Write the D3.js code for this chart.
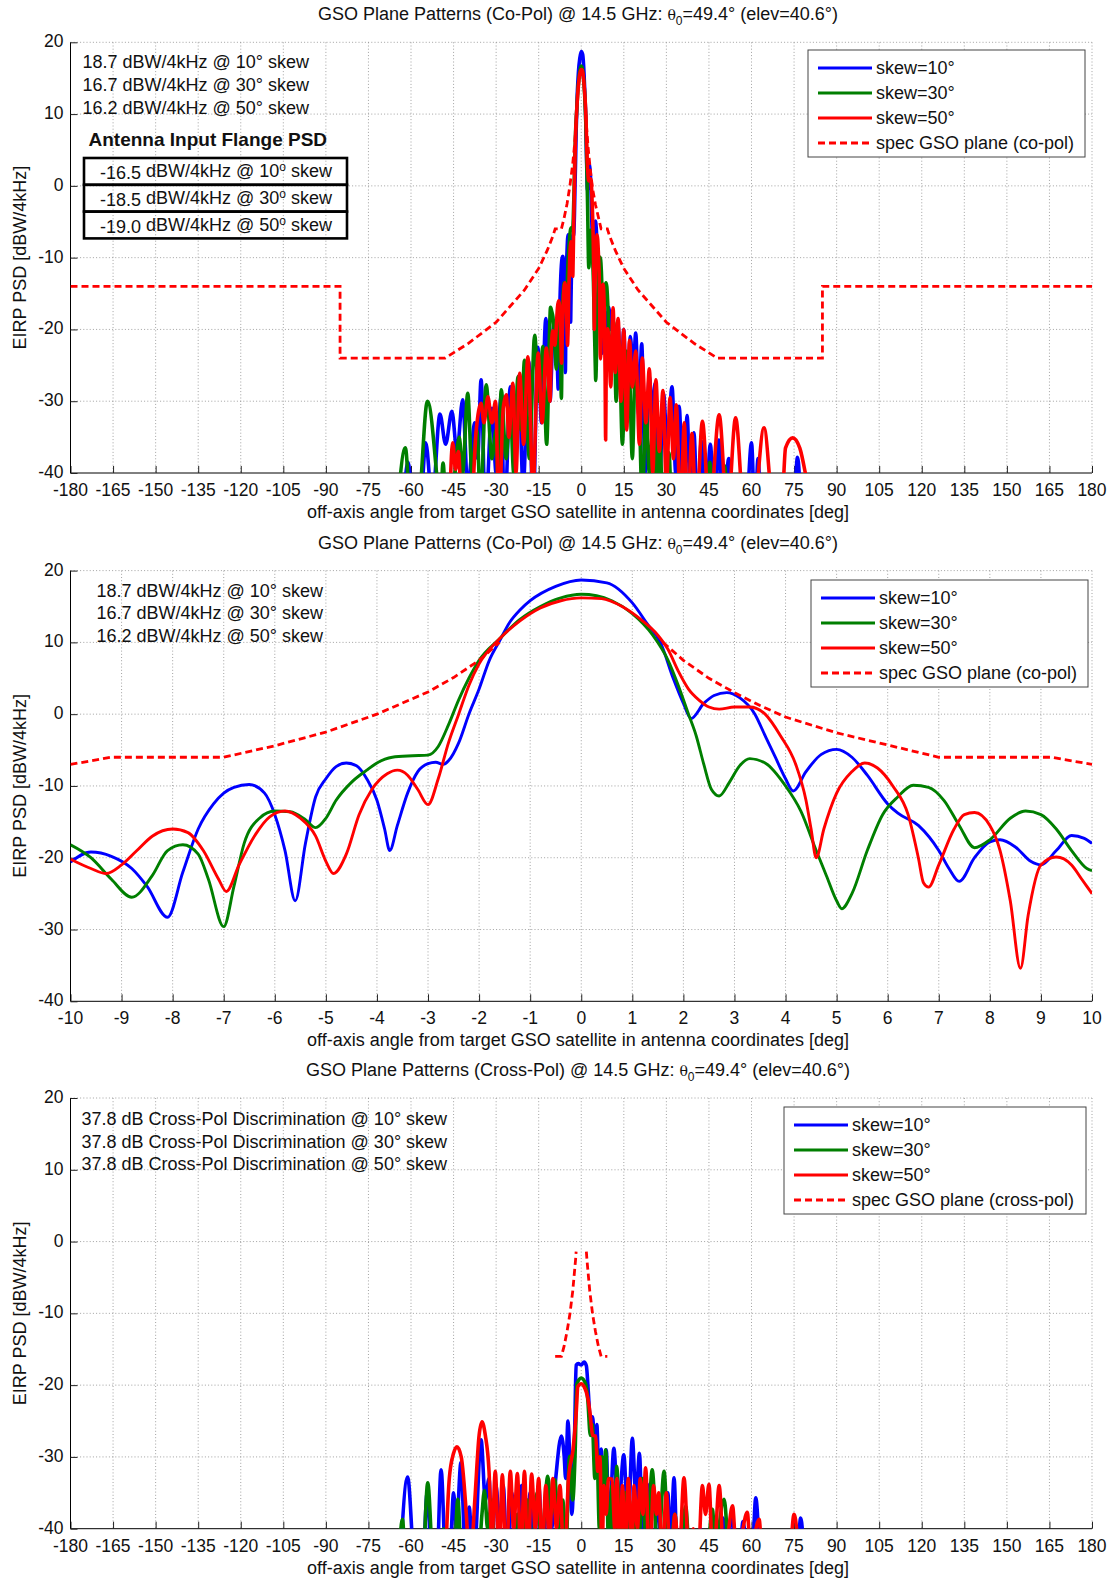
<!DOCTYPE html>
<html>
<head>
<meta charset="utf-8" />
<title>GSO plane patterns</title>
<script src="https://d3js.org/d3.v7.min.js"></script>
<style>
body { margin: 0; background: #fff; }
svg text { font-family: "Liberation Sans", Arial, sans-serif; fill: #111; }
.grid line { stroke: #8a8a8a; stroke-width: 0.8; stroke-dasharray: 1,2.2; }
</style>
</head>
<body>
<div id="chart"></div>
<script>

// ---- data: [angle deg, dBW/4kHz] ----

const wideTicks = d3.range(-180, 181, 15);
const nearTicks = d3.range(-10, 11, 1);
const yTicks = [-40, -30, -20, -10, 0, 10, 20];

const skewLabels = ["skew=10\u00b0", "skew=30\u00b0", "skew=50\u00b0"];
const copolNotes = ["18.7 dBW/4kHz @ 10\u00b0 skew", "16.7 dBW/4kHz @ 30\u00b0 skew", "16.2 dBW/4kHz @ 50\u00b0 skew"];
const xpolNotes = ["37.8 dB Cross-Pol Discrimination @ 10\u00b0 skew", "37.8 dB Cross-Pol Discrimination @ 30\u00b0 skew", "37.8 dB Cross-Pol Discrimination @ 50\u00b0 skew"];
const flangeValues = ["-16.5", "-18.5", "-19.0"];
const flangeSkews = ["10", "30", "50"];

// near-in co-pol patterns (-10..10 deg)
const near10 = [[-10,-20.6],[-9.6,-19.2],[-9.2,-19.8],[-8.8,-21.5],[-8.5,-24],[-8.1,-28.3],[-7.8,-22],[-7.5,-16],[-7.2,-12.5],[-7,-11],[-6.8,-10.2],[-6.5,-9.8],[-6.2,-11],[-6,-14],[-5.8,-19],[-5.6,-26],[-5.4,-18],[-5.2,-11.5],[-5,-9],[-4.8,-7.3],[-4.6,-6.8],[-4.4,-7.2],[-4.2,-9],[-4,-12],[-3.85,-16],[-3.75,-19],[-3.6,-15.5],[-3.4,-11],[-3.2,-8],[-3,-6.9],[-2.85,-6.7],[-2.7,-7],[-2.6,-6.5],[-2.4,-4],[-2.2,0],[-2,3.5],[-1.8,7.5],[-1.6,10.2],[-1.4,12.8],[-1.2,14.5],[-1,15.8],[-0.5,17.8],[0,18.7],[0.5,18.3],[1,15.5],[1.3,12.5],[1.55,10],[1.8,5],[2,1.5],[2.15,-0.6],[2.4,1.5],[2.6,2.6],[2.85,3],[3.1,2.3],[3.4,0],[3.6,-3],[3.8,-6],[4,-9],[4.15,-10.7],[4.4,-8],[4.7,-5.6],[5,-4.9],[5.3,-6],[5.6,-8.5],[6,-12.5],[6.2,-13.8],[6.6,-15.5],[7,-19],[7.2,-21.5],[7.4,-23.3],[7.7,-20],[8,-17.8],[8.2,-17.5],[8.5,-18.5],[8.8,-20.5],[9,-21],[9.3,-19],[9.6,-16.9],[9.85,-17.3],[10,-18]];
const near30 = [[-10,-18.2],[-9.6,-20],[-9.2,-23],[-8.8,-25.5],[-8.4,-22.5],[-8.1,-19],[-7.8,-18.2],[-7.5,-19.5],[-7.3,-23],[-7,-29.6],[-6.8,-24],[-6.6,-18],[-6.3,-14.5],[-6,-13.5],[-5.7,-13.6],[-5.4,-14.7],[-5.2,-15.8],[-5,-14.5],[-4.8,-12],[-4.5,-9.5],[-4.2,-7.8],[-4,-6.8],[-3.7,-6],[-3.3,-5.8],[-3,-5.7],[-2.8,-4.5],[-2.6,-1.5],[-2.4,2],[-2.2,5],[-2,7.5],[-1.6,10.5],[-1.2,13.2],[-0.8,15],[-0.4,16.2],[0,16.7],[0.3,16.5],[0.6,15.8],[1,14],[1.4,11],[1.7,7.5],[1.9,4],[2.1,0],[2.25,-3],[2.4,-7],[2.55,-10.5],[2.7,-11.4],[2.9,-9.5],[3.1,-7.2],[3.3,-6.2],[3.6,-6.8],[4,-10],[4.3,-13.5],[4.6,-19],[4.8,-22.5],[5,-26],[5.1,-27.1],[5.3,-25],[5.6,-19],[5.9,-14],[6.2,-11.5],[6.5,-9.9],[6.8,-10.2],[7.1,-12],[7.4,-15.5],[7.7,-18.6],[8,-17.5],[8.4,-14.5],[8.7,-13.5],[9,-14],[9.3,-16],[9.6,-19],[9.9,-21.5],[10,-21.8]];
const near50 = [[-10,-20.2],[-9.6,-21.5],[-9.3,-22.2],[-9,-21],[-8.7,-19],[-8.4,-17],[-8,-16],[-7.7,-16.5],[-7.4,-19],[-7.1,-23],[-6.95,-24.7],[-6.7,-21],[-6.4,-17],[-6.1,-14.3],[-5.8,-13.5],[-5.5,-14.5],[-5.2,-17],[-5,-20.5],[-4.85,-22.2],[-4.6,-19.5],[-4.35,-14],[-4.1,-10.5],[-3.8,-8.3],[-3.6,-7.8],[-3.4,-8.5],[-3.2,-10.5],[-3,-12.6],[-2.8,-9],[-2.6,-4],[-2.4,0],[-2.2,4],[-2,7],[-1.6,10.5],[-1.2,13],[-0.8,14.8],[-0.4,15.8],[0,16.2],[0.4,16.1],[0.8,15],[1.2,13],[1.5,11],[1.7,9],[1.9,6],[2.1,3.5],[2.3,2],[2.5,1],[2.7,0.7],[3,1],[3.3,1],[3.6,0],[3.9,-3],[4.2,-7],[4.4,-12],[4.5,-16],[4.6,-20],[4.75,-16],[5,-11],[5.3,-8],[5.55,-6.8],[5.8,-7.5],[6.1,-10],[6.4,-14],[6.6,-20],[6.7,-23.5],[6.8,-24.1],[7,-21],[7.3,-16],[7.5,-14],[7.7,-13.7],[8,-15.5],[8.2,-19],[8.4,-26],[8.6,-35.4],[8.75,-28],[9,-21],[9.3,-19.9],[9.6,-21],[9.8,-23],[10,-25]];

// far-out sidelobes of the co-pol cuts (outside +-10 deg)
const far10L = [[-63,-46],[-61,-38.5],[-59,-46],[-56.5,-44],[-54.8,-35.8],[-52.5,-44],[-49.8,-31.8],[-47.8,-36],[-45.6,-31.4],[-43.8,-37],[-41.8,-29.8],[-40,-42],[-37.5,-33],[-36.5,-38],[-35.3,-27],[-33.8,-46],[-31.5,-31],[-30,-40],[-28.3,-29.5],[-27,-46],[-25,-28],[-23.5,-37],[-22,-26.5],[-20.5,-42],[-18.5,-24.5],[-17,-46],[-15.3,-22.5],[-14,-33],[-12.5,-18.5],[-11,-30]];
const far10R = [[10.5,-20],[11,-18],[12,-24],[13,-19.5],[14,-28],[15,-20],[16,-33],[17.3,-21],[18.3,-26],[19.2,-20.5],[20.3,-32],[21.3,-22],[22.5,-40],[24,-26.5],[25,-32],[26,-27.5],[27.3,-45],[29,-29],[30.3,-36],[32,-28],[33.3,-40],[34.5,-30.7],[36,-45],[37.3,-32],[38.5,-44],[39.7,-34.4],[41,-46],[42.3,-35.5],[43.8,-46],[45.5,-36],[47,-46],[48.5,-35.4],[50,-46],[52,-38],[53.5,-46],[58,-46],[60,-35.8],[61.2,-46],[62.3,-38],[63.5,-46],[74.8,-46],[76.2,-37.8],[77.5,-46]];
const far30L = [[-65,-46],[-62,-36.5],[-60,-46],[-57.5,-45],[-54.2,-30],[-51,-40],[-49.8,-46],[-48.7,-38.6],[-47.5,-46],[-45.5,-44],[-43,-35],[-41.8,-40],[-40,-28.9],[-38.5,-40],[-36.8,-34],[-35.5,-44],[-33.5,-27.7],[-31.5,-38],[-30,-34],[-29.3,-42],[-28.2,-28.4],[-26.5,-38],[-25,-31],[-23.8,-40],[-22.3,-26.6],[-21.2,-34],[-20,-24.3],[-18.3,-38],[-16.4,-20.8],[-15,-30],[-13.5,-22.4],[-12.2,-36],[-10.8,-16.9],[-10.4,-17.5]];
const far30R = [[10.5,-24],[11.5,-19],[12.3,-30],[13.3,-21.5],[14.5,-36],[15.7,-23],[16.8,-23.8],[18,-38],[19,-26],[20.3,-29.8],[21.5,-44],[22.8,-31],[24,-40],[25.5,-32],[26.5,-44],[27.5,-34.4],[29,-46],[30.9,-37.2],[32,-46],[44,-46],[45.3,-38.5],[46.5,-46],[49.5,-46],[50.5,-39],[51.5,-46]];
const far50L = [[-46.5,-46],[-45.3,-35.8],[-44.3,-39.5],[-43.3,-37],[-42,-46],[-39,-46],[-37,-34],[-35.3,-30.3],[-34.3,-33],[-32.9,-29.4],[-31.5,-33],[-30.2,-30],[-29,-46],[-27.5,-31],[-26.4,-29.1],[-25.5,-35],[-24.1,-27.5],[-23,-40],[-21.7,-26.1],[-20.3,-36],[-18.8,-23.8],[-17,-42],[-15.2,-23.3],[-13.8,-33],[-12.3,-22.6],[-11,-30],[-10.5,-22]];
const far50R = [[10.4,-28],[11.2,-17],[12,-26],[13,-18.5],[14,-30],[15,-20],[16,-34],[17,-21.5],[18,-28],[19.2,-23],[20.5,-36],[21.5,-24],[22.8,-33],[24,-25.5],[25.2,-40],[26.3,-27],[27.5,-37],[28.8,-28.5],[30,-42],[31.3,-29.5],[32.5,-38],[33.5,-30.5],[35,-46],[36.3,-33],[37.5,-46],[39,-34.5],[40.5,-46],[42.7,-32.8],[45.2,-46],[48.6,-31.9],[51.5,-46],[54.4,-32.3],[57.5,-46],[60.5,-46],[64.4,-33.7],[68,-46],[70.5,-46],[72,-36.5],[74.5,-35.1],[77,-36.5],[80,-42],[82.5,-46]];

// co-pol spec mask (null = gap inside the main beam)
const specNear = [[-10,-7],[-9.2,-6],[-7,-6],[-6,-4.4],[-5,-2.5],[-4,0],[-3,3.1],[-2.5,5.1],[-2,7.5],[-1.6,10],[0,null],[1.6,10],[2,7.5],[2.5,5],[3,3],[3.5,1.2],[4,-0.4],[5,-2.6],[6,-4.3],[7,-6],[9.2,-6],[10,-7]];
const specFarL = [[-180,-14],[-85,-14],[-85,-24],[-48,-24],[-40,-22],[-30,-19],[-20,-14.5],[-15,-11.5],[-12,-9]];
const specFarR = [[12,-9],[15,-11.5],[20,-14.5],[30,-19],[40,-22],[48,-24],[85,-24],[85,-14],[180,-14]];

// cross-pol cuts
const xpol10 = [[-64,-46],[-61.2,-32.8],[-58.5,-46],[-56,-46],[-54.3,-35],[-52.5,-46],[-51,-46],[-49.4,-31.8],[-47.6,-46],[-46,-42],[-45,-35],[-44,-40],[-42.4,-30.8],[-41,-42],[-39.5,-37],[-38,-46],[-35.3,-27.6],[-33.8,-36],[-32.5,-33],[-31.5,-42],[-30,-34],[-28.8,-40],[-27.5,-34],[-26,-46],[-24.5,-35],[-23,-44],[-21,-34],[-19.5,-44],[-18,-35],[-16.5,-42],[-15,-34],[-13.5,-44],[-12,-35],[-10.5,-40],[-9,-33],[-7,-27.1],[-6,-30],[-5.5,-33],[-4.7,-25],[-3.3,-38],[-2.3,-26],[-1.8,-17.2],[-1,-17],[0,-17.2],[1,-16.8],[1.8,-17.3],[2.5,-21],[3.2,-25],[4,-24.4],[4.8,-29],[5.5,-25.5],[6.2,-33],[7,-28.9],[8,-36],[8.8,-29],[9.8,-40],[11.5,-28.8],[13,-38],[15,-29.7],[16.5,-40],[18,-27.4],[19.3,-36],[20.5,-29.5],[21.8,-44],[23.3,-33.8],[25,-46],[27,-36],[28.5,-46],[30.5,-35],[31.5,-42],[32.7,-32.9],[34,-46],[36,-38],[37.5,-46],[40,-46],[42,-40],[44,-46],[48,-46],[50,-38.5],[51.5,-44],[53,-38],[55.5,-46],[57,-39],[59,-46],[60,-46],[61.5,-35.7],[63.5,-46],[76,-46],[77.3,-38.5],[78.8,-46]];
const xpol30 = [[-64.5,-46],[-63,-38.7],[-61.8,-46],[-56,-46],[-54.1,-33.6],[-52,-46],[-50,-46],[-48.5,-40],[-47,-46],[-45,-46],[-43.5,-35.9],[-42,-46],[-40,-46],[-38,-40],[-36.5,-46],[-35,-38],[-34.1,-34.7],[-33,-40],[-31.5,-36],[-30.5,-46],[-28,-46],[-26,-40],[-24.5,-46],[-22.5,-38],[-21,-46],[-19,-36],[-17.5,-44],[-15.5,-35],[-14,-42],[-11.8,-32.7],[-10.5,-38],[-9.3,-33.2],[-8,-40],[-6.5,-36],[-5.5,-44],[-4.1,-29.9],[-3,-36],[-2.2,-30],[-1.5,-19.8],[0,-19],[1.5,-19.8],[2.3,-22],[3.2,-27],[3.9,-25.5],[4.8,-33],[5.5,-29],[6.4,-40],[7.3,-30],[8,-36],[8.6,-29],[9.8,-44],[10.8,-34],[11.7,-44],[12.5,-31.3],[14,-46],[15.5,-35],[17,-46],[18.5,-36],[20,-46],[21.5,-33],[23,-44],[25,-31.8],[27,-44],[29.2,-32],[31,-46],[33,-38],[34.5,-46],[36.8,-36.9],[38.5,-46],[44,-46],[46.2,-37.3],[47.5,-44],[48.5,-40],[50.3,-35.9],[52,-46]];
const xpol50 = [[-48,-46],[-46.5,-33],[-45,-29.5],[-43.8,-28.6],[-42.3,-30],[-40.5,-38],[-39.3,-46],[-37.5,-36],[-36,-27],[-35,-25.1],[-33.8,-27],[-32.5,-32],[-31.5,-42],[-30.3,-32],[-29,-44],[-27.8,-32.5],[-26.5,-46],[-25,-32],[-23.8,-40],[-22.5,-32.3],[-21.3,-44],[-20,-32],[-18.8,-46],[-17.5,-32.4],[-16.2,-40],[-15,-33],[-13.8,-44],[-12.5,-34],[-11.2,-42],[-10,-33],[-8.7,-40],[-7.5,-34],[-6,-46],[-4.5,-33],[-2.9,-29],[-1.8,-24],[-1.2,-20.2],[0,-19.8],[1,-20.2],[1.8,-21],[2.4,-22],[3.1,-23.9],[4,-27],[5.1,-27.1],[5.8,-32],[6.6,-30],[7.3,-44],[8,-34],[8.8,-38],[9.6,-33],[10.9,-33.1],[11.8,-40],[12.6,-33],[13.6,-46],[14.5,-34],[15.5,-42],[16.6,-33],[17.8,-44],[18.6,-34],[19.8,-40],[20.8,-33],[21.7,-38],[22.7,-31.5],[24,-46],[25.5,-34],[26.5,-38],[27.3,-35],[28.5,-44],[30,-35],[31.5,-46],[33,-38],[34.5,-44],[36.2,-32.9],[38,-44],[39.5,-40],[41,-46],[42.7,-34],[43.8,-38],[45,-33.8],[46.5,-46],[48.6,-34],[50.5,-46],[52,-40],[53.3,-36.8],[55,-46],[57,-40],[58.5,-37.7],[60,-46],[61.2,-41],[62.7,-38.7],[64,-46],[73,-46],[75,-38],[77,-46]];
const specXpol = [[-9.2,-16],[-7,-16],[-6,-14.5],[-5,-12.5],[-4,-10.1],[-3,-6.9],[-2,-2.5],[-1.8,-1.4],[0,null],[1.8,-1.4],[2,-2.5],[3,-6.9],[4,-10.1],[5,-12.5],[6,-14.5],[7,-16],[9.2,-16]];

// ---- layout ----
const W = 1112, H = 1578;
const plotLeft = 70.5, plotRight = 1092, plotH = 430.7;
const colors = ["#0000ff", "#007f00", "#ff0000"];
const xTitle = "off-axis angle from target GSO satellite in antenna coordinates [deg]";
const FS = 18;      // titles, notes, legend
const TFS = 17.5;   // tick labels

const svg = d3.select("#chart").append("svg")
	.attr("width", W)
	.attr("height", H);

function titleText(g, x, y, pol) {
	let t = g.append("text")
		.attr("x", x).attr("y", y)
		.attr("text-anchor", "middle")
		.attr("font-size", FS);
	t.append("tspan").text("GSO Plane Patterns (" + pol + ") @ 14.5 GHz:  ");
	t.append("tspan").attr("font-family", "DejaVu Serif, serif").attr("font-size", 14).text("\u03b8");
	t.append("tspan").attr("font-size", 12).attr("dy", 5).text("0");
	t.append("tspan").attr("dy", -5).text("=49.4\u00b0 (elev=40.6\u00b0)");
}

function drawPanel(p, idx) {
	let top = p.top;
	let g = svg.append("g");

	let x = d3.scaleLinear().domain(p.xDomain).range([plotLeft, plotRight]);
	let y = d3.scaleLinear().domain([-40, 20]).range([top + plotH, top]);

	titleText(g, 578, top - 22, p.pol);

	// grid
	let grid = g.append("g").attr("class", "grid");
	grid.selectAll(".gx").data(p.xTicks.slice(1))
		.enter().append("line")
		.attr("x1", d => x(d)).attr("x2", d => x(d))
		.attr("y1", top).attr("y2", top + plotH);
	grid.selectAll(".gy").data(yTicks.slice(1))
		.enter().append("line")
		.attr("x1", plotLeft).attr("x2", plotRight)
		.attr("y1", d => y(d)).attr("y2", d => y(d));

	// axes (ticks inside, MATLAB style)
	let xAxis = d3.axisTop(x).tickValues(p.xTicks).tickSize(7).tickFormat("");
	let yAxis = d3.axisRight(y).tickValues(yTicks).tickSize(7).tickFormat("");
	g.append("g").attr("transform", "translate(0," + (top + plotH) + ")").call(xAxis)
		.call(a => a.select(".domain").attr("d", "M" + plotLeft + ",0H" + plotRight));
	g.append("g").attr("transform", "translate(" + plotLeft + ",0)").call(yAxis)
		.call(a => a.select(".domain").attr("d", "M0," + top + "V" + (top + plotH)));
	g.selectAll(".tick line").attr("stroke", "#222");

	// tick labels
	g.selectAll(".xl").data(p.xTicks).enter().append("text")
		.attr("x", d => x(d)).attr("y", top + plotH + 23)
		.attr("text-anchor", "middle").attr("font-size", TFS)
		.text(d => d);
	g.selectAll(".yl").data(yTicks).enter().append("text")
		.attr("x", plotLeft - 7).attr("y", d => y(d) + 5)
		.attr("text-anchor", "end").attr("font-size", TFS)
		.text(d => d);

	g.append("text")
		.attr("x", 578).attr("y", top + plotH + 45)
		.attr("text-anchor", "middle").attr("font-size", FS)
		.text(xTitle);
	g.append("text")
		.attr("transform", "translate(26," + (top + plotH / 2) + ") rotate(-90)")
		.attr("text-anchor", "middle").attr("font-size", FS)
		.text("EIRP PSD [dBW/4kHz]");

	// curves
	let clipId = "clip" + idx;
	g.append("clipPath").attr("id", clipId)
		.append("rect")
		.attr("x", plotLeft).attr("y", top - 1)
		.attr("width", plotRight - plotLeft).attr("height", plotH + 1);

	let line = d3.line()
		.defined(d => d[1] != null)
		.x(d => x(d[0])).y(d => y(d[1]))
		.curve(d3.curveMonotoneX);

	let plot = g.append("g").attr("clip-path", "url(#" + clipId + ")");
	p.series.forEach((s, i) => {
		plot.append("path")
			.datum(s)
			.attr("fill", "none")
			.attr("stroke", colors[i])
			.attr("stroke-width", p.lw)
			.attr("stroke-linejoin", "round")
			.attr("d", line);
	});
	plot.append("path")
		.datum(p.spec)
		.attr("fill", "none")
		.attr("stroke", "#ff0000")
		.attr("stroke-width", 2.8)
		.attr("stroke-dasharray", "7,4")
		.attr("d", line.curve(d3.curveLinear));

	// annotation lines
	g.selectAll(".note").data(p.notes).enter().append("text")
		.attr("x", p.noteX).attr("y", (d, i) => top + p.noteDy + i * 22.6)
		.attr("font-size", FS)
		.text(d => d);

	// legend
	let lg = g.append("g").attr("transform", "translate(" + p.legend[0] + "," + p.legend[1] + ")");
	lg.append("rect")
		.attr("width", p.legend[2]).attr("height", 107)
		.attr("fill", "#fff").attr("stroke", "#444").attr("stroke-width", 1);
	let labels = skewLabels.concat([p.specLabel]);
	labels.forEach((lab, i) => {
		let ly = 18 + i * 25;
		lg.append("line")
			.attr("x1", 10).attr("x2", 64)
			.attr("y1", ly).attr("y2", ly)
			.attr("stroke", i < 3 ? colors[i] : "#ff0000")
			.attr("stroke-width", 3)
			.attr("stroke-dasharray", i < 3 ? null : "7,4");
		lg.append("text")
			.attr("x", 68).attr("y", ly + 6)
			.attr("font-size", FS)
			.text(lab);
	});
}

let panels = [
	{
		top: 42.3, pol: "Co-Pol", xDomain: [-180, 180], xTicks: wideTicks, lw: 3.6,
		series: [far10L.concat(near10, far10R), far30L.concat(near30, far30R), far50L.concat(near50, far50R)],
		spec: specFarL.concat(specNear, specFarR),
		notes: copolNotes, noteX: 82.5, noteDy: 26,
		legend: [808, 50, 277], specLabel: "spec GSO plane (co-pol)"
	},
	{
		top: 570.6, pol: "Co-Pol", xDomain: [-10, 10], xTicks: nearTicks, lw: 2.9,
		series: [near10, near30, near50],
		spec: specNear,
		notes: copolNotes, noteX: 96.5, noteDy: 26,
		legend: [811, 580, 277], specLabel: "spec GSO plane (co-pol)"
	},
	{
		top: 1098, pol: "Cross-Pol", xDomain: [-180, 180], xTicks: wideTicks, lw: 3.6,
		series: [xpol10, xpol30, xpol50],
		spec: specXpol,
		notes: xpolNotes, noteX: 81.5, noteDy: 27,
		legend: [784, 1107, 302], specLabel: "spec GSO plane (cross-pol)"
	}
];

panels.forEach((p, i) => drawPanel(p, i));

// antenna input flange PSD table (top panel)
let fl = svg.append("g");
fl.append("text")
	.attr("x", 88.5).attr("y", 146)
	.attr("font-size", 19).attr("font-weight", "bold")
	.text("Antenna Input Flange PSD");
flangeValues.forEach((v, i) => {
	let by = 158 + i * 26.8;
	fl.append("rect")
		.attr("x", 84).attr("y", by)
		.attr("width", 263).attr("height", 26.8)
		.attr("fill", "none").attr("stroke", "#000").attr("stroke-width", 2.6);
	let t = fl.append("text")
		.attr("x", 216).attr("y", by + 19)
		.attr("text-anchor", "middle").attr("font-size", FS);
	t.append("tspan").attr("dy", 2).text(v + " ");
	t.append("tspan").attr("dy", -2).text("dBW/4kHz @ " + flangeSkews[i]);
	t.append("tspan").attr("dy", -6).attr("font-size", 12).text("o");
	t.append("tspan").attr("dy", 6).text(" skew");
});

</script>
</body>
</html>
